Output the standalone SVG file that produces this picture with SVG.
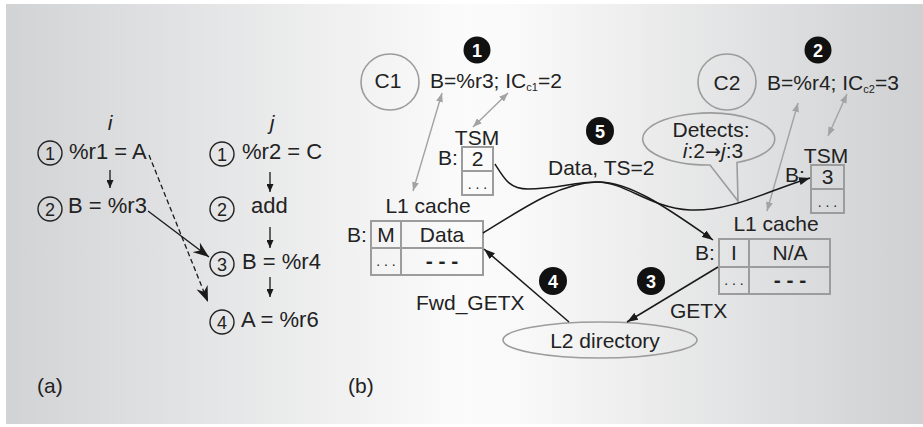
<svg xmlns="http://www.w3.org/2000/svg" width="923" height="427" viewBox="0 0 923 427">
<defs>
<linearGradient id="bg" x1="0" y1="0" x2="1" y2="0">
<stop offset="0" stop-color="#d2d3d5"/>
<stop offset="0.5" stop-color="#fbfbfb"/>
<stop offset="0.56" stop-color="#f9f9f9"/>
<stop offset="1" stop-color="#cfd0d2"/>
</linearGradient>
<marker id="ah" viewBox="0 0 11 8" refX="11" refY="4" markerWidth="11" markerHeight="8" markerUnits="userSpaceOnUse" orient="auto"><path d="M0,0 L11,4 L0,8 Z" fill="#1a1a1a"/></marker>
<marker id="ahs" viewBox="0 0 8 7" refX="8" refY="3.5" markerWidth="8" markerHeight="7" markerUnits="userSpaceOnUse" orient="auto"><path d="M0,0 L8,3.5 L0,7 Z" fill="#1a1a1a"/></marker>
<marker id="barb" viewBox="0 0 16 12" refX="16" refY="6" markerWidth="16" markerHeight="12" markerUnits="userSpaceOnUse" orient="auto"><path d="M0,0 L16,6 L0,12 L5,6 Z" fill="#1a1a1a"/></marker>
<marker id="gh" viewBox="0 0 9 7" refX="9" refY="3.5" markerWidth="9" markerHeight="7" markerUnits="userSpaceOnUse" orient="auto-start-reverse"><path d="M0,0 L9,3.5 L0,7 Z" fill="#a3a3a3"/></marker>
<style>
.t{font-family:"Liberation Sans",Arial,sans-serif;fill:#222;font-size:21px}
.a{font-size:22px}
.m{text-anchor:middle}
.dot{font-size:14px;text-anchor:middle}
.dash{font-weight:bold;text-anchor:middle}
.box{fill:none;stroke:#9c9c9c;stroke-width:2}
.ell{fill:none;stroke:#9c9c9c;stroke-width:1.6}
.cc{fill:none;stroke:#222;stroke-width:1.4}
.cd{font-size:18px;text-anchor:middle}
.ga{fill:none;stroke:#a3a3a3;stroke-width:1.4;marker-start:url(#gh);marker-end:url(#gh)}
.ba{fill:none;stroke:#1a1a1a;stroke-width:1.5;marker-end:url(#ah)}
.da{fill:none;stroke:#1a1a1a;stroke-width:1.3;marker-end:url(#ahs)}
.bd circle{fill:#111}
.bd text{font-family:"Liberation Sans",Arial,sans-serif;fill:#fff;font-size:18px;font-weight:bold;text-anchor:middle}
</style>
</defs>
<rect x="0" y="0" width="923" height="427" fill="#ffffff"/>
<rect x="6" y="4" width="917" height="420" fill="url(#bg)"/>

<!-- Part (a) -->
<g id="a-headers">
<text class="t m" x="110" y="130" font-size="24" font-style="italic">i</text>
<text class="t m" x="272" y="130" font-size="24" font-style="italic">j</text>
</g>
<g id="i1"><circle class="cc" cx="50" cy="153" r="12"/><text class="t cd" x="50" y="159.5">1</text><text class="t a" x="69" y="159">%r1 = A</text></g>
<g id="i2"><circle class="cc" cx="50" cy="209" r="12"/><text class="t cd" x="50" y="215.5">2</text><text class="t a" x="68" y="213">B = %r3</text></g>
<g id="j1"><circle class="cc" cx="222" cy="154" r="12"/><text class="t cd" x="222" y="160.5">1</text><text class="t a" x="242" y="159">%r2 = C</text></g>
<g id="j2"><circle class="cc" cx="222" cy="209" r="12"/><text class="t cd" x="222" y="215.5">2</text><text class="t a" x="251" y="213">add</text></g>
<g id="j3"><circle class="cc" cx="222" cy="264" r="12"/><text class="t cd" x="222" y="270.5">3</text><text class="t a" x="242" y="269">B = %r4</text></g>
<g id="j4"><circle class="cc" cx="222" cy="322" r="12"/><text class="t cd" x="222" y="328.5">4</text><text class="t a" x="241" y="327">A = %r6</text></g>
<g id="a-connectors">
<line class="da" x1="110" y1="170" x2="110" y2="188"/>
<line class="da" x1="270" y1="172" x2="270" y2="192"/>
<line class="da" x1="270" y1="227" x2="270" y2="248"/>
<line class="da" x1="270" y1="277" x2="270" y2="297"/>
<line x1="148" y1="211" x2="209" y2="257" stroke="#1a1a1a" stroke-width="1.3" marker-end="url(#barb)"/>
<line x1="149" y1="155" x2="208" y2="302" stroke="#1a1a1a" stroke-width="1.3" stroke-dasharray="5,3" marker-end="url(#barb)"/>
</g>
<text class="t" x="37" y="393" font-size="20">(a)</text>

<!-- Part (b) -->
<g id="c1">
<ellipse class="ell" cx="390" cy="82" rx="29" ry="28"/>
<text class="t m" x="388" y="88" font-size="23">C1</text>
</g>
<g id="c1-state"><text class="t" x="430" y="88" font-size="22">B=%r3; IC<tspan font-size="11" dy="3">c1</tspan><tspan dy="-3">=2</tspan></text></g>
<g id="c2">
<ellipse class="ell" cx="727" cy="82" rx="29" ry="28"/>
<text class="t m" x="727" y="90" font-size="23">C2</text>
</g>
<g id="c2-state"><text class="t" x="767" y="90" font-size="22">B=%r4; IC<tspan font-size="11" dy="3">c2</tspan><tspan dy="-3">=3</tspan></text></g>

<g id="tsm1">
<text class="t m" x="477" y="145" font-size="20">TSM</text>
<text class="t" x="438" y="165">B:</text>
<rect class="box" x="462" y="147" width="31" height="48"/>
<line class="box" x1="462" y1="171" x2="493" y2="171"/>
<text class="t m" x="477.5" y="166">2</text>
<text class="t dot" x="477.5" y="189">. . .</text>
</g>
<g id="l1c1">
<text class="t m" x="428" y="213">L1 cache</text>
<text class="t" x="347" y="242">B:</text>
<rect class="box" x="371" y="221" width="112" height="54"/>
<line class="box" x1="401" y1="221" x2="401" y2="275"/>
<line class="box" x1="371" y1="248" x2="483" y2="248"/>
<text class="t m" x="386" y="242">M</text>
<text class="t m" x="442" y="242">Data</text>
<text class="t dot" x="386" y="266">. . .</text>
<text class="t dash" x="442" y="268">- - -</text>
</g>
<g id="tsm2">
<text class="t m" x="826" y="163" font-size="20">TSM</text>
<text class="t" x="785" y="182">B:</text>
<rect class="box" x="811" y="165" width="33" height="48"/>
<line class="box" x1="811" y1="189" x2="844" y2="189"/>
<text class="t m" x="827.5" y="184">3</text>
<text class="t dot" x="827.5" y="207">. . .</text>
</g>
<g id="l1c2">
<text class="t m" x="776" y="231">L1 cache</text>
<text class="t" x="695" y="260">B:</text>
<rect class="box" x="719" y="239" width="111" height="55"/>
<line class="box" x1="749" y1="239" x2="749" y2="294"/>
<line class="box" x1="719" y1="267" x2="830" y2="267"/>
<text class="t m" x="734" y="260">I</text>
<text class="t m" x="790" y="260">N/A</text>
<text class="t dot" x="734" y="285">. . .</text>
<text class="t dash" x="790" y="287">- - -</text>
</g>
<g id="l2dir">
<ellipse class="ell" cx="600" cy="340" rx="97" ry="18"/>
<text class="t m" x="605" y="348">L2 directory</text>
</g>
<g id="detects">
<path class="ell" d="M737,162.5 L738,201 L710,165 A66,26 0 1 1 737,162.5 Z"/>
<text class="t m" x="711" y="137">Detects:</text>
<text class="t m" x="713" y="158"><tspan font-style="italic">i</tspan>:2<tspan font-family="'DejaVu Sans',sans-serif" font-size="19">→</tspan><tspan font-style="italic">j</tspan>:3</text>
</g>

<g id="b-connectors">
<line class="ga" x1="442" y1="93" x2="413" y2="191"/>
<line class="ga" x1="508" y1="93" x2="473" y2="127"/>
<line class="ga" x1="798" y1="103" x2="767" y2="211"/>
<line class="ga" x1="847" y1="94" x2="828" y2="136"/>
<path class="ba" d="M495,164 C505,180 510,189 528,189 C555,189 575,182 597,182 C625,182 650,208 690,210 C730,212 770,190 810,178"/>
<path class="ba" d="M483,233 C525,207 560,183 597,182 C630,181 670,210 713,240"/>
<line class="ba" x1="569" y1="322" x2="484" y2="249"/>
<line class="ba" x1="718" y1="267" x2="627" y2="322"/>
</g>
<g id="b-labels">
<text class="t" x="548" y="175">Data, TS=2</text>
<text class="t" x="416" y="310" font-size="20">Fwd_GETX</text>
<text class="t" x="670" y="318" font-size="20">GETX</text>
</g>
<g id="badges" class="bd">
<g id="badge1"><circle cx="477" cy="50" r="13.5"/><text x="477" y="56.5">1</text></g>
<g id="badge2"><circle cx="818" cy="50" r="13.5"/><text x="818" y="56.5">2</text></g>
<g id="badge3"><circle cx="651" cy="281" r="14"/><text x="651" y="287.5">3</text></g>
<g id="badge4"><circle cx="553" cy="281" r="14"/><text x="553" y="287.5">4</text></g>
<g id="badge5"><circle cx="600" cy="131" r="14"/><text x="600" y="137.5">5</text></g>
</g>
<text class="t" x="348" y="393" font-size="20">(b)</text>
</svg>
